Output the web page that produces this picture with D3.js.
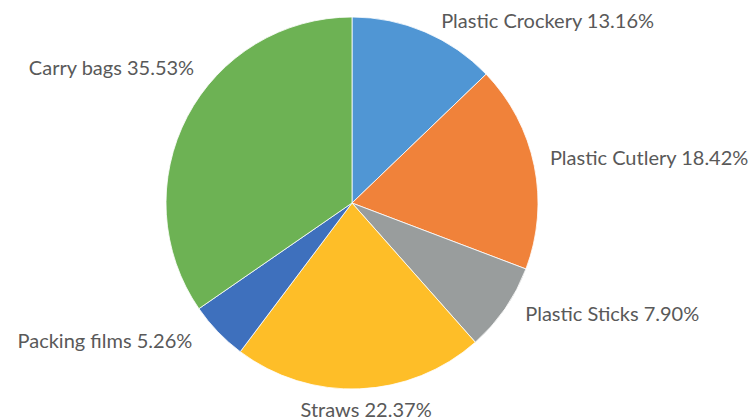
<!DOCTYPE html>
<html><head><meta charset="utf-8">
<script src="https://cdn.jsdelivr.net/npm/d3@7"></script>
<style>body{margin:0;background:#fff}</style>
</head><body>
<svg id="c" width="752" height="420"></svg>
<script>
const categories = ["Plastic Crockery","Plastic Cutlery","Plastic Sticks","Straws","Packing films","Carry bags"];
const values = [13.16, 18.42, 7.90, 22.37, 5.26, 35.53];
const labels = ["13.16%","18.42%","7.90%","22.37%","5.26%","35.53%"];
const colors = ["#5096D4","#F0823A","#999D9D","#FEBE28","#3E70BD","#6DB254"];
// label placement tweaks (layout only)
const labelNudge = [[10,11],[0,2],[7,3],[6,12],[-14,5],[21,-34]];

const svg = d3.select("#c");
const cx = 352, cy = 203, r = 186, lr = 202;
const g = svg.append("g").attr("transform",`translate(${cx},${cy})`);
const pie = d3.pie().sort(null).value(d=>d)(values);
const arc = d3.arc().innerRadius(0).outerRadius(r);
g.selectAll("path").data(pie).join("path")
  .attr("d",arc).attr("fill",(d,i)=>colors[i])
  .attr("stroke","#fff").attr("stroke-width",0.8);
g.selectAll("text").data(pie).join("text")
  .each(function(d,i){
    const a=(d.startAngle+d.endAngle)/2;
    const s=Math.sin(a), c=Math.cos(a);
    const x=lr*s+labelNudge[i][0], y=-lr*c+labelNudge[i][1];
    const anchor = Math.abs(s)<0.2 ? "middle" : (s>0?"start":"end");
    d3.select(this).attr("x",x).attr("y",y).attr("text-anchor",anchor);
  })
  .attr("font-family","Lato, sans-serif").attr("font-size",20).attr("fill","#595959")
  .text((d,i)=>categories[i]+" "+labels[i]);
</script>
</body></html>
